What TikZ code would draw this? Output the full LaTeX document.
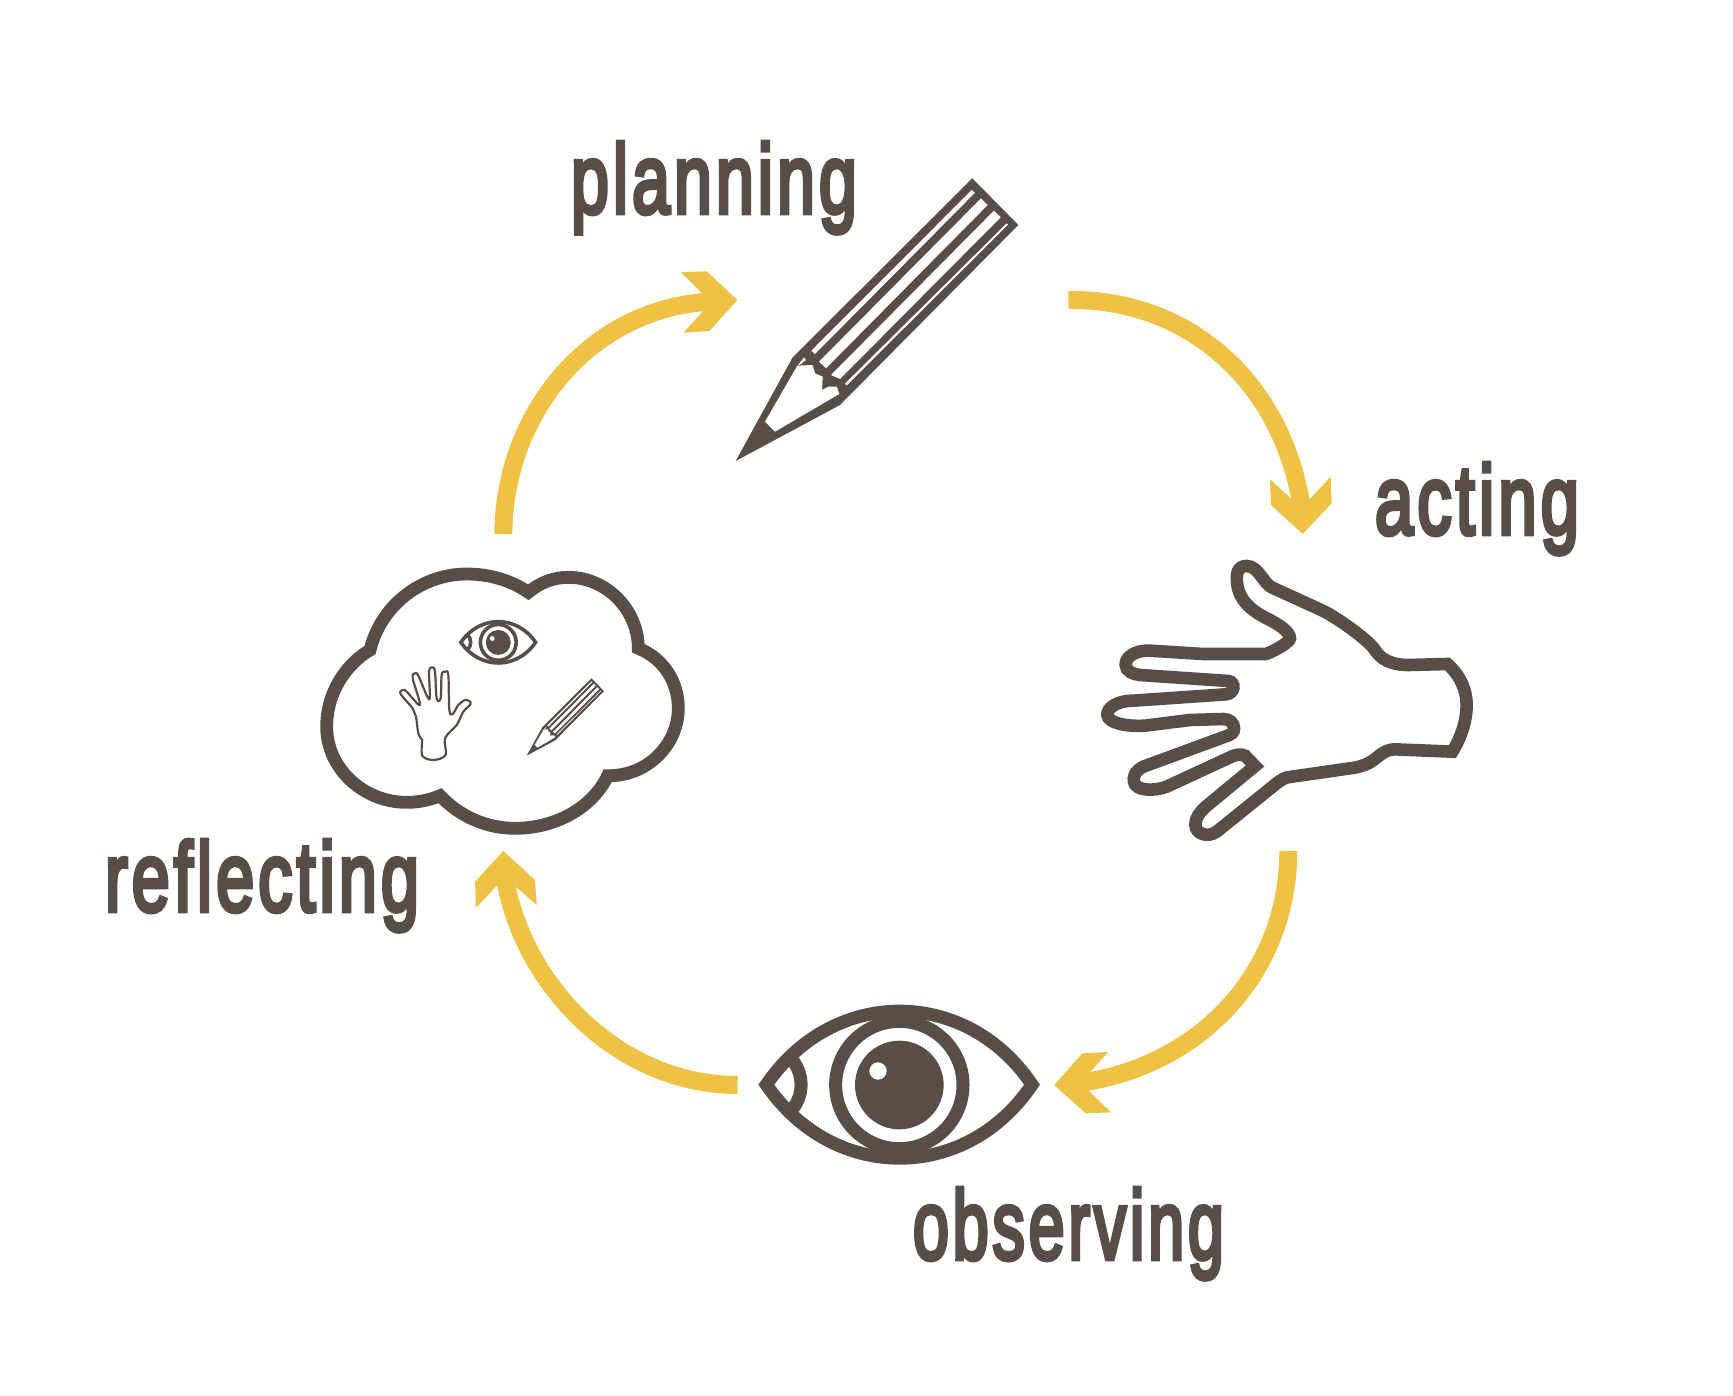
\documentclass[tikz,border=0pt]{standalone}
\usepackage{fontspec}
\usepackage{graphicx}
\setmainfont{Liberation Sans}
\newfontfamily\labfam{Liberation Sans}[FakeBold=5,LetterSpace=6]
\definecolor{ink}{HTML}{594D48}
\definecolor{sun}{HTML}{EFC145}
\newcommand{\labelfont}{\fontsize{49pt}{49pt}\labfam}
\newcommand{\fitlabel}[2]{\resizebox{#1}{\height}{\labelfont #2}}
\tikzset{
  lab/.style={anchor=base west,inner sep=0pt,outer sep=0pt,text=ink},
  shaft/.style={draw=sun,line width=9pt,line cap=butt},
  head/.style={fill=sun,draw=none},
  icon/.style={draw=ink,line join=round},
  zoomed/.style={scale=1/3}
}
\newcommand{\eyeicon}[1]{%
  \draw[draw=ink,line width=#1,line join=miter,miter limit=10] (49,284) .. controls (250,-10) and (648,-10) .. (846,284) .. controls (648,578) and (250,578) .. (49,284) -- cycle;
  \draw[draw=ink,line width=#1] (448,285) circle (191);
  \fill[ink] (448,285) circle (133);
  \fill[white] (384,243) circle (26);
  \draw[draw=ink,line width=#1] (118,198) .. controls (165,250) and (165,320) .. (118,368);
}
\newcommand{\pencilicon}{%
  \fill[ink] (757,55) -- (895,195) -- (360,735) -- (47,903) -- (218,592) -- cycle;
  \fill[white] (755,90) -- (765,98) -- (285,582) -- (274,572) -- cycle;
  \fill[white] (783,115) -- (803,135) -- (318,625) -- (297,605) -- cycle;
  \fill[white] (822,152) -- (842,172) -- (360,657) -- (333,645) -- cycle;
  \fill[white] (860,190) -- (864,194) -- (380,676) -- (375,671) -- cycle;
  \fill[white] (233,617) -- (252,592) -- (258,600) -- (240,614) -- cycle;
  \fill[white] (232,617) -- (278,615) -- (285,640) -- (308,650) -- (306,690) -- (325,680) -- (350,680) -- (358,702) -- (165,815) -- (135,785) -- cycle;
}
\begin{document}
\begin{tikzpicture}[x=0.5pt,y=-0.5pt]
\useasboundingbox (0,0) rectangle (1733,1396);
\fill[white] (0,0) rectangle (1733,1396);

% labels
\node[lab] (planning) at (571,213) {\fitlabel{143pt}{planning}};
\node[lab] (acting) at (1375,534) {\fitlabel{102pt}{acting}};
\node[lab] (reflecting) at (105,911) {\fitlabel{157pt}{reflecting}};
\node[lab] (observing) at (913,1259) {\fitlabel{155.5pt}{observing}};

% pencil
\begin{scope}[shift={(720,160)},zoomed]
  \pencilicon
\end{scope}

% big eye
\begin{scope}[shift={(750,990)},zoomed]
  \eyeicon{6.5pt}
\end{scope}

% big hand
\begin{scope}[shift={(1090,550)},zoomed]
  \draw[icon,line width=6.3pt,line join=miter,miter limit=4]
    (1072,342) -- (955,345)
    .. controls (900,345) and (870,325) .. (855,300)
    .. controls (840,275) and (750,208) .. (700,183)
    -- (545,112)
    .. controls (520,100) and (505,48) .. (470,48)
    .. controls (440,48) and (438,75) .. (442,105)
    .. controls (450,160) and (500,190) .. (530,205)
    .. controls (565,222) and (600,245) .. (600,265)
    .. controls (600,275) and (560,300) .. (528,312)
    -- (340,312) -- (180,302)
    .. controls (130,300) and (105,325) .. (107,345)
    .. controls (108,365) and (130,373) .. (150,375)
    -- (415,393)
    .. controls (438,396) and (435,430) .. (408,433)
    -- (130,452)
    .. controls (80,452) and (50,475) .. (52,495)
    .. controls (55,520) and (110,530) .. (165,527)
    -- (300,510) -- (400,507)
    .. controls (420,507) and (432,520) .. (432,535)
    .. controls (432,548) and (425,553) .. (410,558)
    -- (160,650)
    .. controls (130,665) and (130,685) .. (132,695)
    .. controls (135,722) and (190,725) .. (230,710)
    -- (420,622)
    .. controls (440,612) and (455,612) .. (465,617)
    -- (495,648) -- (345,772)
    .. controls (330,785) and (315,805) .. (316,825)
    .. controls (317,850) and (350,865) .. (380,845)
    -- (545,712)
    .. controls (565,695) and (580,685) .. (592,682)
    -- (780,655)
    .. controls (835,648) and (850,630) .. (870,615)
    .. controls (885,605) and (895,598) .. (915,598)
    -- (1087,605)
    .. controls (1115,560) and (1130,510) .. (1130,465)
    .. controls (1130,420) and (1110,375) .. (1072,342) -- cycle;
\end{scope}

% cloud
\begin{scope}[shift={(310,560)},zoomed]
  \draw[icon,line width=6.4pt,line join=miter]
    (180,270) .. controls (215,130) and (340,42) .. (470,42)
    .. controls (540,42) and (605,62) .. (655,97)
    .. controls (690,68) and (730,52) .. (775,52)
    .. controls (890,52) and (985,150) .. (985,265)
    .. controls (1060,295) and (1105,365) .. (1105,445)
    .. controls (1105,555) and (1010,650) .. (893,647)
    .. controls (850,740) and (740,805) .. (615,805)
    .. controls (530,805) and (450,770) .. (390,707)
    .. controls (360,720) and (325,727) .. (290,727)
    .. controls (160,727) and (50,625) .. (50,500)
    .. controls (50,400) and (105,315) .. (180,270) -- cycle;
\end{scope}

% small eye
\begin{scope}[shift={(456.3,615.7)},scale=.0937]
  \eyeicon{1.8pt}
\end{scope}
% small pencil
\begin{scope}[shift={(522.4,673.3)},scale=.0912]
  \pencilicon
\end{scope}
% small hand
\begin{scope}[shift={(390,610)},zoomed]
  \draw[icon,line width=1.1pt]
    plot[smooth,tension=.55] coordinates {(97,390) (85,370) (78,320) (68,295) (32,252) (38,240) (50,245) (90,285) (68,205) (75,190) (85,197) (118,268) (117,185) (127,172) (135,185) (140,265) (152,265) (155,195) (165,185) (175,195) (178,300) (188,312) (205,285) (225,270) (240,275) (240,285) (220,305) (200,345) (165,385) (167,435) (130,450) (97,437) (97,390)};
\end{scope}

% arrows
\begin{scope}[shift={(480,250)},zoomed]
  \coordinate (a1s) at (70,852);
  \coordinate (a1e) at (690,155);
  \draw[shaft] (a1s) .. controls (72,490) and (330,175) .. (a1e);
  \fill[head] (603,67) -- (680,64) -- (772,150) -- (688,243) -- (610,248) -- (668,185) -- (668,131) -- cycle;
\end{scope}

\begin{scope}[shift={(1050,280)},zoomed]
  \coordinate (a2s) at (55,60);
  \coordinate (a2e) at (755,680);
  \draw[shaft] (a2s) .. controls (410,55) and (695,300) .. (a2e);
  \fill[head] (660,598) -- (722,655) -- (777,660) -- (842,590) -- (845,670) -- (758,762) -- (663,675) -- cycle;
\end{scope}

\begin{scope}[shift={(1040,840)},zoomed]
  \coordinate (a3s) at (745,33);
  \coordinate (a3e) at (130,727);
  \draw[shaft] (a3s) .. controls (745,385) and (495,670) .. (a3e);
  \fill[head] (127,640) -- (205,636) -- (147,700) -- (147,753) -- (213,817) -- (137,820) -- (43,735) -- cycle;
\end{scope}

\begin{scope}[shift={(460,840)},zoomed]
  \coordinate (a4s) at (833,735);
  \coordinate (a4e) at (135,115);
  \draw[shaft] (a4s) .. controls (480,735) and (190,440) .. (a4e);
  \fill[head] (130,33) -- (225,120) -- (230,195) -- (165,138) -- (112,135) -- (48,203) -- (45,125) -- cycle;
\end{scope}
\end{tikzpicture}
\end{document}
